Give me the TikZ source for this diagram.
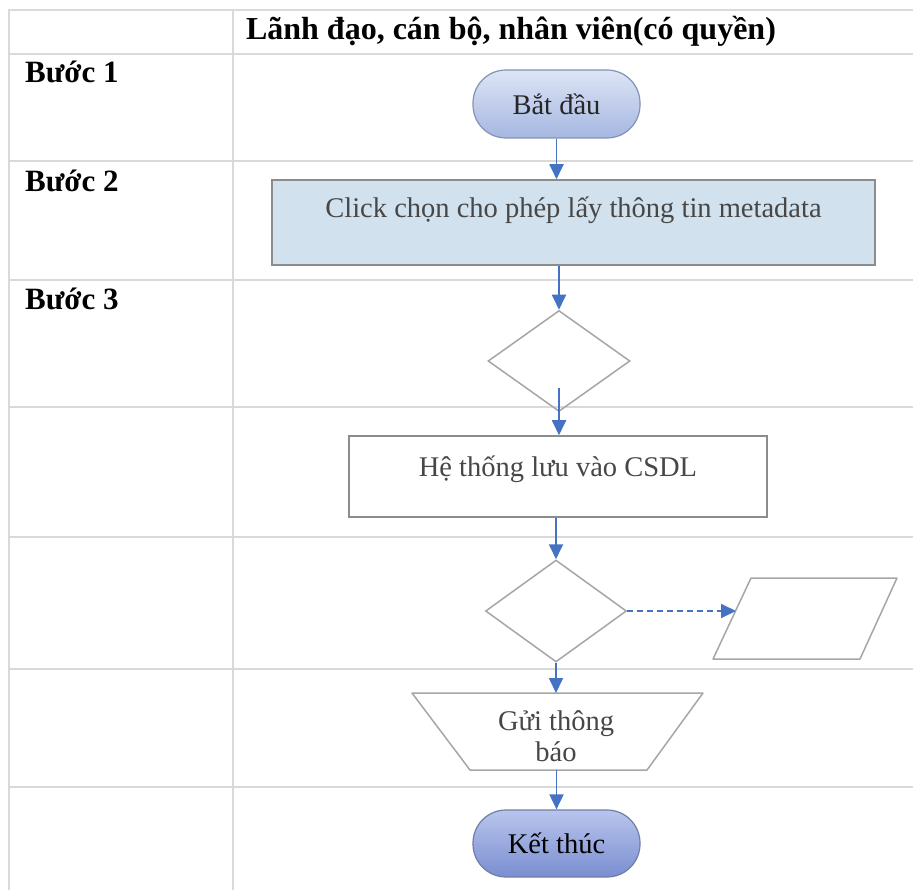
\documentclass[tikz,border=0pt]{standalone}
\usepackage{fontspec}
\setmainfont{Liberation Serif}
\usetikzlibrary{shapes.geometric,arrows.meta}
\definecolor{gridc}{HTML}{D9D9D9}
\definecolor{arrblue}{HTML}{4472C4}
\definecolor{shapegray}{HTML}{A6A6A6}
\definecolor{boxgray}{HTML}{8C8C8C}
\definecolor{clickfill}{HTML}{D2E1EE}
\definecolor{txtgray}{HTML}{474747}
\definecolor{pillAtop}{HTML}{DDE5F5}
\definecolor{pillAbot}{HTML}{A5B6E1}
\definecolor{pillAdraw}{HTML}{8393B5}
\definecolor{pillBtop}{HTML}{B9C5EE}
\definecolor{pillBbot}{HTML}{7A8ED0}
\definecolor{pillBdraw}{HTML}{6F7FA8}
\begin{document}
\begin{tikzpicture}[x=1pt,y={(0,-1pt)},
  gridline/.style={gridc,line width=2pt},
  hdr/.style={font=\fontsize{32}{36}\selectfont\bfseries,anchor=base,inner sep=0},
  lbl/.style={font=\fontsize{31}{36}\selectfont\bfseries,anchor=base west,inner sep=0},
  txt/.style={font=\fontsize{28.5}{31}\selectfont,inner sep=0},
  pill/.style={txt,rectangle,rounded corners=33pt,minimum width=167pt,minimum height=68pt,line width=1.2pt},
  plainbox/.style={txt,rectangle,draw=boxgray,line width=1.5pt,text=txtgray},
  dia/.style={diamond,draw=shapegray,line width=1.5pt,inner sep=0,minimum width=142pt,minimum height=101pt},
  outline/.style={draw=shapegray,line width=1.5pt,line join=round},
  arr/.style={arrblue,line width=1.8pt,-{Triangle[length=15pt,width=14pt]}},
  darr/.style={arr,dash pattern=on 6pt off 4pt}
]
\useasboundingbox (0,0) rectangle (913,890);
\fill[white] (0,0) rectangle (913,890);
% table grid
\foreach \yy in {10,54,161,280,407,537,669,787}
  \draw[gridline] (8,\yy) -- (913,\yy);
\draw[gridline] (9,10) -- (9,890);
\draw[gridline] (233,10) -- (233,890);
% headers
\node[hdr] (head) at (511,40) {Lãnh đạo, cán bộ, nhân viên(có quyền)};
\node[lbl] (b1) at (25,83) {Bước 1};
\node[lbl] (b2) at (25,192) {Bước 2};
\node[lbl] (b3) at (25,310) {Bước 3};
% flow
\node[pill,draw=pillAdraw,top color=pillAtop,bottom color=pillAbot,text=black!85] (start) at (556.5,104) {Bắt đầu};
\node[plainbox,fill=clickfill,minimum width=603pt,minimum height=85pt,text depth=30pt,text=txtgray] (click) at (573.5,222.5) {Click chọn cho phép lấy thông tin metadata};
\node[dia] (d1) at (559,361) {};
\node[plainbox,fill=white,minimum width=418pt,minimum height=81pt,text depth=20pt] (hts) at (558,476.5) {Hệ thống lưu vào CSDL};
\node[dia,minimum width=141pt,minimum height=102pt] (d2) at (556,611) {};
\draw[outline] (713,659) -- (751,578) -- (897,578) -- (860,659) -- cycle;
\coordinate (par) at (736,611);
\draw[outline] (412,693) -- (703,693) -- (647,770) -- (470,770) -- cycle;
\coordinate (guiT) at (557,693);
\coordinate (guiB) at (557,770);
\node[txt,align=center,text=txtgray] (gui) at (556,736) {Gửi thông\\báo};
\node[pill,draw=pillBdraw,top color=pillBtop,bottom color=pillBbot,minimum height=67pt,text=black] (end) at (556.5,843.5) {Kết thúc};
% connectors
\draw[arr] (start.south) -- (start.south |- click.north);
\draw[arr] (click.south -| d1.north) -- (d1.north);
\draw[arr] ([yshift=24pt]d1.south) -- (d1.south |- hts.north);
\draw[arr] (hts.south -| d2.north) -- (d2.north);
\draw[arr] (d2.south) -- (d2.south |- guiT);
\draw[arr] (guiB -| end.north) -- (end.north);
\draw[darr] (d2.east) -- (d2.east -| par);
\end{tikzpicture}
\end{document}
